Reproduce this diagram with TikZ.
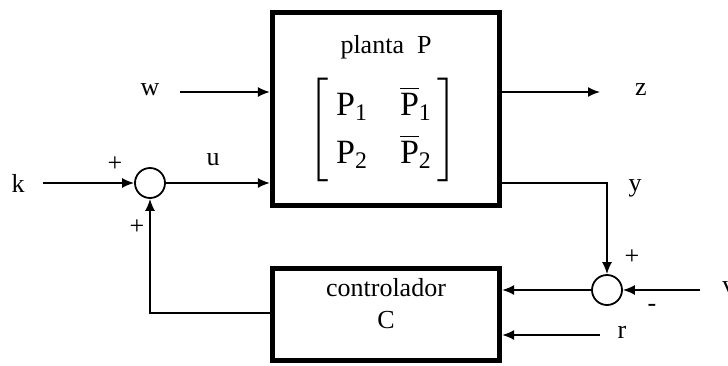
\documentclass[tikz,border=0pt]{standalone}
\usepackage{amsmath}
\usepackage{fontspec}
\setmainfont{Liberation Serif}
\usetikzlibrary{arrows.meta}

\tikzset{
  blockbox/.style={draw, line width=2.6pt, inner sep=0pt},
  sumnode/.style={draw, circle, line width=0.9pt, minimum size=15pt, inner sep=0pt},
  sig/.style={line width=0.85pt, -{Latex[length=6pt,width=5pt]}},
  lbl/.style={inner sep=0pt, font=\fontsize{13}{15}\selectfont}
}

\begin{document}
\begin{tikzpicture}[x=0.5pt,y=-0.5pt]
  \useasboundingbox (0,0) rectangle (728,365);

  % blocks
  \node[blockbox, minimum width=113.5pt, minimum height=96.5pt] (P) at (386,109) {};
  \node[blockbox, minimum width=113.5pt, minimum height=46pt] (C) at (386,314.5) {};
  \node[lbl] (Ptitle) at (386,47) {planta\ \ P};
  \node[inner sep=0pt, font=\fontsize{17}{20}\selectfont] (Pmat) at (383,130)
    {$\renewcommand{\arraystretch}{1.2}
     \left[\begin{array}{@{\hspace{4pt}}c@{\hspace{16pt}}c@{\hspace{3pt}}}
       \text{P}_{\text{1}} & \overline{\text{P}}_{\text{1}}\\
       \text{P}_{\text{2}} & \overline{\text{P}}_{\text{2}}
     \end{array}\right]$};
  \node[lbl, align=center] (Ctitle) at (386,304) {controlador\\[1pt]C};

  % summing junctions
  \node[sumnode] (S1) at (150,183) {};
  \node[sumnode] (S2) at (607,290) {};

  % free ends
  \coordinate (kin) at (43,183);
  \coordinate (win) at (180,92);
  \coordinate (zout) at (600,92);
  \coordinate (ycorner) at (607,183);
  \coordinate (vin) at (700,290);
  \coordinate (rin) at (600,335);
  \coordinate (fbcorner) at (150,313);

  % signals
  \draw[sig] (kin) -- (S1.west);
  \draw[sig] (S1.east) -- (S1.east -| P.west);
  \draw[sig] (win) -- (win -| P.west);
  \draw[sig] (zout -| P.east) -- (zout);
  \draw[sig] (ycorner -| P.east) -- (ycorner) -- (S2.north);
  \draw[sig] (vin) -- (S2.east);
  \draw[sig] (S2.west) -- (S2.west -| C.east);
  \draw[sig] (rin) -- (rin -| C.east);
  \draw[sig] (fbcorner -| C.west) -- (fbcorner) -- (S1.south);

  % labels
  \node[lbl] (k) at (18,183) {k};
  \node[lbl] (w) at (150,90) {w};
  \node[lbl] (z) at (641,90) {z};
  \node[lbl] (u) at (213,160) {u};
  \node[lbl] (y) at (635,188) {y};
  \node[lbl] (r) at (622,332) {r};
  \node[lbl, anchor=west] (v) at (722,288) {v};
  \node[lbl] (s1a) at (115,164) {+};
  \node[lbl] (s1b) at (137,227) {+};
  \node[lbl] (s2a) at (632,257) {+};
  \node[lbl] (s2b) at (652,308) {-};
\end{tikzpicture}
\end{document}
